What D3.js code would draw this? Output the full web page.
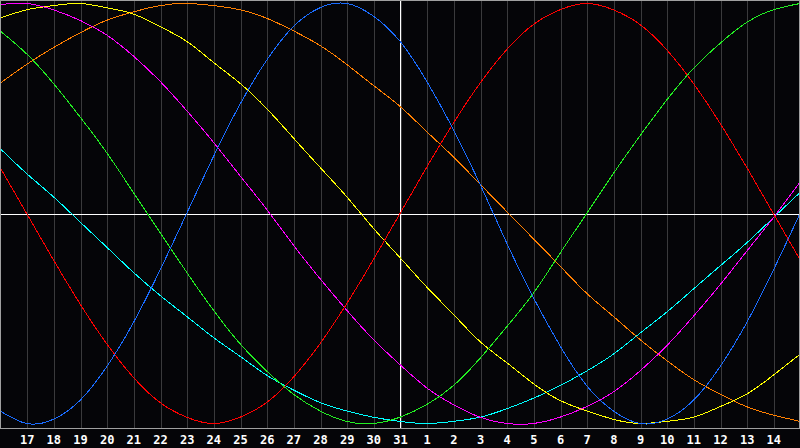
<!DOCTYPE html>
<html>
<head>
<meta charset="utf-8">
<script src="https://cdn.jsdelivr.net/npm/d3@7"></script>
<style>
  html, body { margin: 0; padding: 0; background: #000; }
  svg { display: block; }
</style>
</head>
<body>
<div id="chart"></div>
<script>
// day labels under the grid (index 1..29), index 0 = 16th, index 30 = 15th
const dayLabels = [17, 18, 19, 20, 21, 22, 23, 24, 25, 26, 27, 28, 29, 30, 31,
  1, 2, 3, 4, 5, 6, 7, 8, 9, 10, 11, 12, 13, 14];

// one value per day, index 0..30
const physical = [-0.94, -1.00, -0.98, -0.89, -0.73, -0.52, -0.27, 0.00, 0.27, 0.52, 0.73,
  0.89, 0.98, 1.00, 0.94, 0.82, 0.63, 0.40, 0.14, -0.14, -0.40, -0.63, -0.82, -0.94, -1.00,
  -0.98, -0.89, -0.73, -0.52, -0.27, 0.00];
const emotional = [0.22, 0.00, -0.22, -0.43, -0.62, -0.78, -0.90, -0.97, -1.00, -0.97, -0.90,
  -0.78, -0.62, -0.43, -0.22, 0.00, 0.22, 0.43, 0.62, 0.78, 0.90, 0.97, 1.00, 0.97, 0.90,
  0.78, 0.62, 0.43, 0.22, 0.00, -0.22];
const intellectual = [0.87, 0.76, 0.62, 0.46, 0.29, 0.10, -0.09, -0.28, -0.46, -0.62, -0.75,
  -0.86, -0.94, -0.99, -1.00, -0.97, -0.91, -0.82, -0.69, -0.54, -0.38, -0.19, 0.00, 0.19, 0.37,
  0.54, 0.69, 0.81, 0.91, 0.97, 1.00];
const intuitive = [0.995, 1.00, 0.97, 0.92, 0.85, 0.75, 0.63, 0.49, 0.34, 0.18, 0.02,
  -0.15, -0.31, -0.46, -0.60, -0.72, -0.83, -0.91, -0.97, -1.00, -1.00, -0.97, -0.92, -0.85, -0.75,
  -0.63, -0.49, -0.34, -0.18, -0.02, 0.15];
const aesthetic = [0.93, 0.97, 0.99, 1.00, 0.98, 0.95, 0.89, 0.82, 0.72, 0.62, 0.50,
  0.36, 0.22, 0.08, -0.07, -0.21, -0.35, -0.48, -0.61, -0.71, -0.81, -0.89, -0.94, -0.98, -1.00,
  -0.99, -0.97, -0.92, -0.86, -0.77, -0.67];
const awareness = [0.62, 0.71, 0.79, 0.86, 0.92, 0.96, 0.99, 1.00, 0.99, 0.97, 0.93,
  0.87, 0.80, 0.71, 0.61, 0.51, 0.39, 0.27, 0.14, 0.01, -0.12, -0.25, -0.38, -0.49, -0.60,
  -0.70, -0.79, -0.86, -0.92, -0.96, -0.99];
const spiritual = [0.31, 0.19, 0.08, -0.04, -0.16, -0.28, -0.39, -0.49, -0.59, -0.68, -0.77,
  -0.84, -0.90, -0.94, -0.97, -0.99, -1.00, -0.99, -0.97, -0.93, -0.88, -0.82, -0.75, -0.67, -0.57,
  -0.47, -0.36, -0.25, -0.14, -0.02, 0.10];

const seriesList = [
  { values: spiritual, color: '#00ffff' },
  { values: awareness, color: '#ff7f00' },
  { values: aesthetic, color: '#ffff00' },
  { values: intuitive, color: '#ff00ff' },
  { values: intellectual, color: '#22ee22' },
  { values: emotional, color: '#ff0000' },
  { values: physical, color: '#1a6cff' }
];

const W = 800, H = 448;
const plotH = 428;

const svg = d3.select('#chart').append('svg')
  .attr('width', W)
  .attr('height', H)
  .style('background', '#050508');

const x = d3.scaleLinear().domain([0, 30]).range([0, 800]);
const y = d3.scaleLinear().domain([-1, 1]).range([423.5, 3.5]);

const snap = v => Math.round(v) + 0.5;

// vertical day grid
const grid = svg.append('g')
  .attr('transform', `translate(0.5,0)`)
  .call(d3.axisBottom(x)
    .tickValues(d3.range(1, 30))
    .tickSize(plotH)
    .tickFormat(''));
grid.select('.domain').remove();
grid.selectAll('.tick line')
  .attr('stroke', '#3a3a3c')
  .attr('shape-rendering', 'crispEdges');

// centre lines
svg.append('line')
  .attr('x1', 0).attr('x2', W)
  .attr('y1', snap(y(0))).attr('y2', snap(y(0)))
  .attr('stroke', '#ffffff')
  .attr('shape-rendering', 'crispEdges');
svg.append('line')
  .attr('x1', snap(x(15))).attr('x2', snap(x(15)))
  .attr('y1', 0).attr('y2', plotH)
  .attr('stroke', '#ffffff')
  .attr('shape-rendering', 'crispEdges');

// curves
const line = d3.line()
  .x((d, i) => x(i))
  .y(d => y(d))
  .curve(d3.curveNatural);

svg.selectAll('.cycle')
  .data(seriesList)
  .enter()
  .append('path')
  .attr('class', 'cycle')
  .attr('d', d => line(d.values))
  .attr('fill', 'none')
  .attr('stroke', d => d.color)
  .attr('stroke-width', 1)
  .attr('shape-rendering', 'crispEdges');

// frame
svg.append('rect')
  .attr('x', 0.5).attr('y', 0.5)
  .attr('width', W - 1).attr('height', plotH - 0.5)
  .attr('fill', 'none')
  .attr('stroke', '#a0a0a0')
  .attr('shape-rendering', 'crispEdges');

// day labels
const axis = svg.append('g')
  .attr('transform', `translate(0,${plotH})`)
  .call(d3.axisBottom(x)
    .tickValues(d3.range(1, 30))
    .tickSize(0)
    .tickPadding(7)
    .tickFormat(d => dayLabels[d - 1]));
axis.select('.domain').remove();
axis.selectAll('text')
  .attr('fill', '#ffffff')
  .attr('font-family', '"DejaVu Sans Mono", monospace')
  .attr('font-weight', 'bold')
  .attr('font-size', '12px');
</script>
</body>
</html>
